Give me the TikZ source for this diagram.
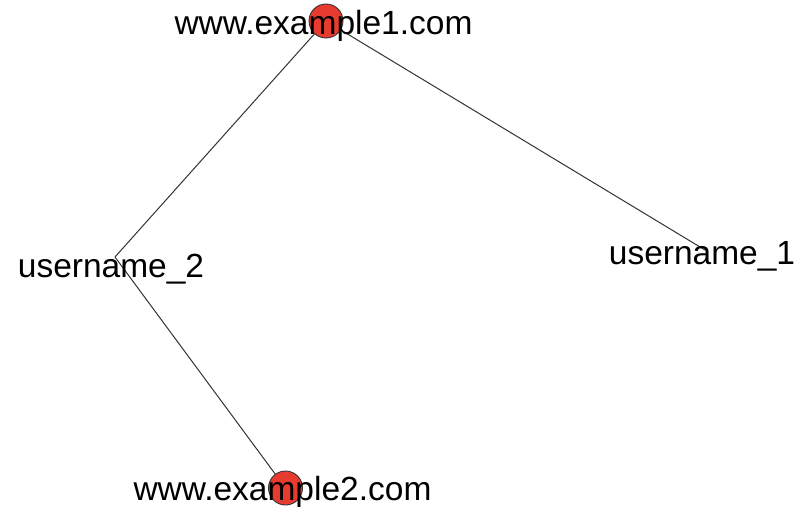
\documentclass[tikz,border=0pt]{standalone}
\usepackage{fontspec}
\setmainfont{Liberation Sans}
\definecolor{vred}{HTML}{E63B2E}
\definecolor{vedge}{HTML}{333333}
\begin{document}
\begin{tikzpicture}[x=1pt,y=-1pt,
  vtx/.style={circle,draw=vedge,line width=0.9pt,fill=vred,minimum size=34pt,inner sep=0pt},
  edge/.style={draw=vedge,line width=1pt},
  lbl/.style={inner sep=0pt,font=\fontsize{33.5}{36}\selectfont,anchor=base}]
\useasboundingbox (0,0) rectangle (810,510);
\coordinate (u2) at (115,257);
\coordinate (u1) at (705,250);
\coordinate (e1) at (326,21);
\coordinate (e2) at (285.5,488);
\draw[edge] (e1) -- (u2);
\draw[edge] (e1) -- (u1);
\draw[edge] (u2) -- (e2);
\node[vtx] (c1) at (e1) {};
\node[vtx] (c2) at (e2) {};
\node[lbl] (t1) at (323.5,35) {www.example1.com};
\node[lbl] (t2) at (282.5,500) {www.example2.com};
\node[lbl] (t3) at (111,277) {username\_2};
\node[lbl] (t4) at (702,265) {username\_1};
\end{tikzpicture}
\end{document}
